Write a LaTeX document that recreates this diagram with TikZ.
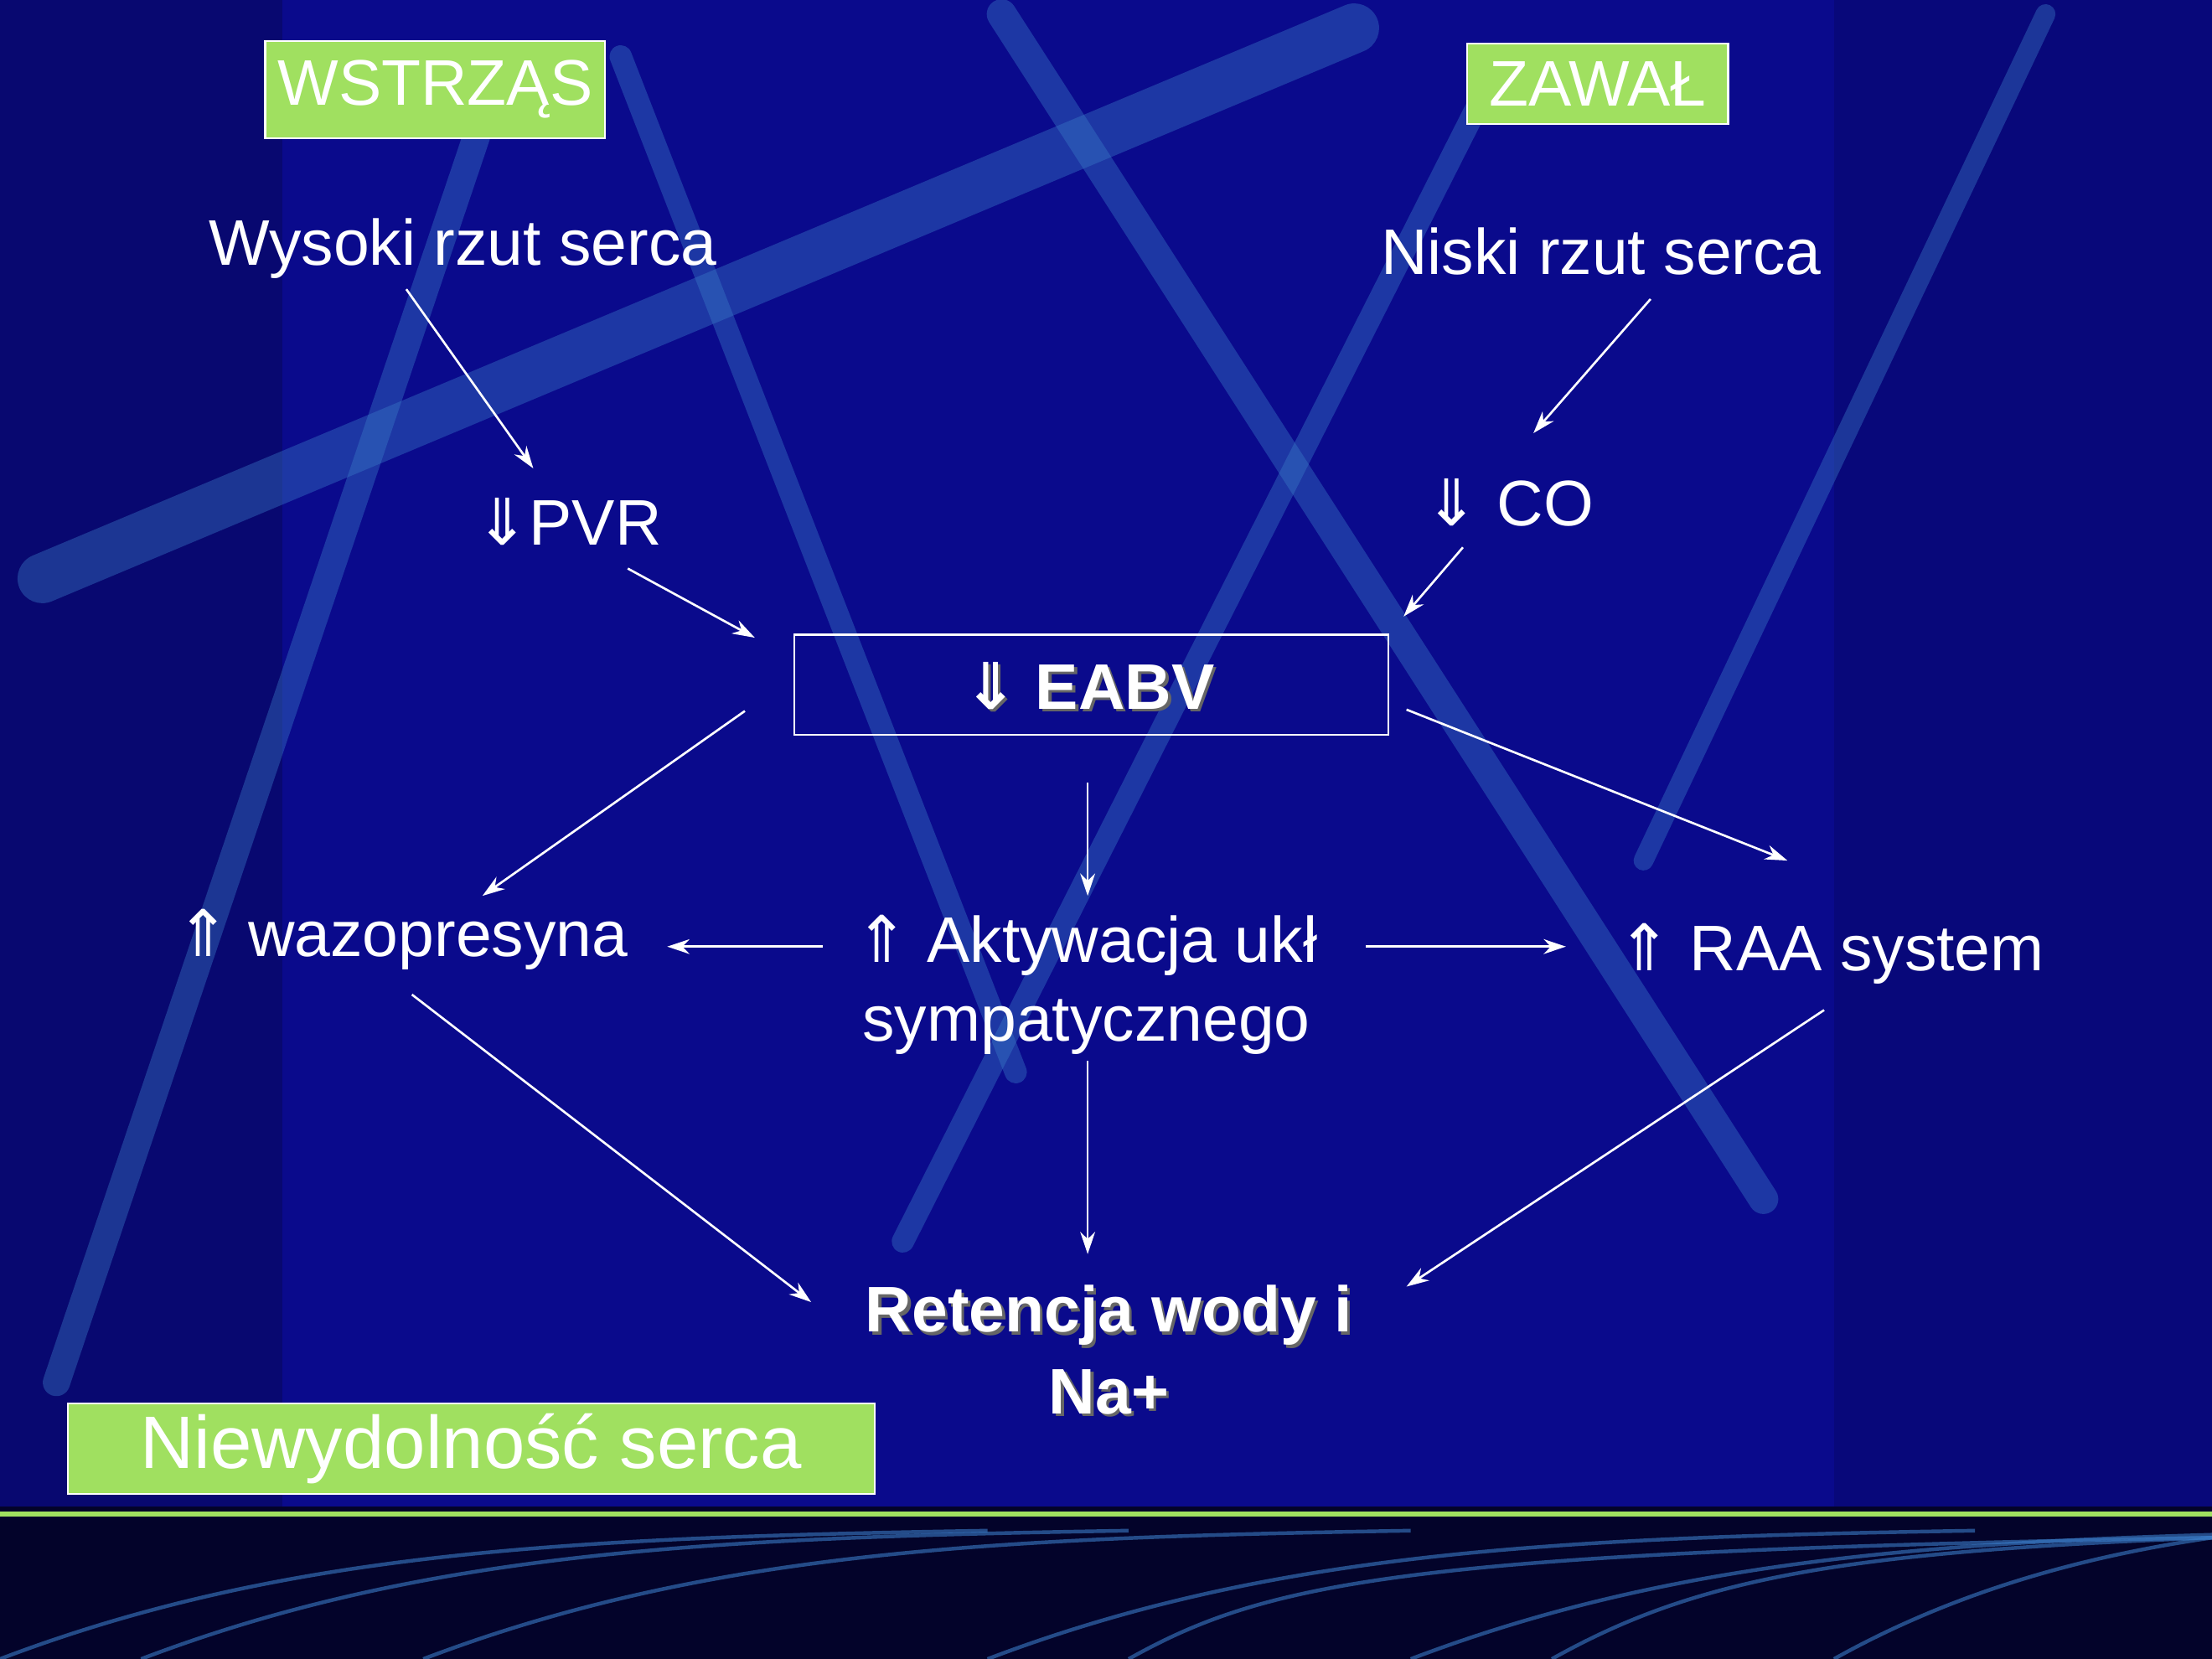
\documentclass[tikz,border=0pt]{standalone}
\usepackage{fontspec}
\setmainfont{Liberation Sans}
\newfontfamily\sym{DejaVu Sans}
\usetikzlibrary{arrows.meta}
\definecolor{bgblue}{HTML}{0A0A8C}
\definecolor{gbox}{HTML}{A0E060}
\definecolor{streak}{HTML}{3A7CC8}
\begin{document}
\begin{tikzpicture}[x=0.02cm,y=-0.02cm,
  txt/.style={text=white,font=\fontsize{26}{30}\selectfont,inner sep=0pt},
  bld/.style={text=white,font=\fontsize{26}{31}\selectfont\bfseries,inner sep=0pt,align=center},
  gbx/.style={fill=gbox,draw=white,line width=0.8pt,text=white,inner sep=0pt},
  arr/.style={white,line width=0.9pt,-{Stealth[length=9pt,width=6pt]}},
  st/.style={streak,opacity=0.4,line cap=round}]
\useasboundingbox (0,0) rectangle (1568,1176);
\fill[bgblue] (0,0) rectangle (1568,1176);
\fill[black,opacity=0.2] (0,0) rectangle (200,1176);
\fill[black,opacity=0.12] (1300,0) rectangle (1568,1176);
% streaks
\draw[st,line width=20pt] (30,410) -- (960,20);
\draw[st,line width=12pt] (710,10) -- (1250,850);
\draw[st,line width=9pt] (440,40) -- (720,760);
\draw[st,line width=11pt] (340,90) -- (40,980);
\draw[st,line width=9pt] (1060,50) -- (640,880);
\draw[st,line width=8pt] (1450,10) -- (1165,610);
% bottom band
\fill[black!70!bgblue] (0,1068) rectangle (1568,1176);
\draw[gbox,line width=2pt] (0,1073) -- (1568,1073);
\foreach \a/\b in {0/1176,100/1176,300/1176,700/1176,1000/1176}{
  \draw[streak,opacity=0.6,line width=1.5pt] (\a,\b) .. controls (\a+200,1100) and (\a+400,1090) .. (\a+700,1085);}
\foreach \a in {800,1100,1300}{
  \draw[streak,opacity=0.6,line width=1.5pt] (\a,1176) .. controls (\a+100,1120) and (\a+200,1100) .. (1568,1090);}
% nodes
\node[gbx,minimum width=241*0.02cm,minimum height=69*0.02cm,font=\fontsize{26}{30}\selectfont] (wst) at (308.5,63.5) {WSTRZĄS};
\node[gbx,minimum width=185*0.02cm,minimum height=57*0.02cm,font=\fontsize{26}{30}\selectfont] (zaw) at (1132.5,59.5) {ZAWAŁ};
\node[gbx,minimum width=572*0.02cm,minimum height=64*0.02cm,font=\fontsize{30}{34}\selectfont] (nie) at (334,1027) {Niewydolność serca};
\node[txt] (wys) at (328,176) {Wysoki rzut serca};
\node[txt] (nis) at (1135,178) {Niski rzut serca};
\node[txt] (pvr) at (403,370) {{\sym ⇓}PVR};
\node[txt] (co) at (1070,356) {{\sym ⇓} CO};
\node[draw=white,line width=0.8pt,minimum width=421*0.02cm,minimum height=71*0.02cm] (eabv) at (773.5,485.5) {};
\node[bld,text=black!60] at (774,488) {{\sym ⇓} EABV};
\node[bld] (eabvt) at (772,486) {{\sym ⇓} EABV};
\node[txt] (waz) at (285,666) {{\sym ⇑} wazopresyna};
\node[txt,align=center] (akt) at (770,698) {{\sym ⇑} Aktywacja ukł\\[2pt]sympatycznego};
\node[txt] (raa) at (1298,676) {{\sym ⇑} RAA system};
\node[bld,text=black!60] at (788,959) {Retencja wody i\\[2pt]Na+};
\node[bld] (ret) at (786,957) {Retencja wody i\\[2pt]Na+};
% arrow anchors
\foreach \n/\x/\y in {a1/288/205,b1/378/332,a2/445/403,b2/535/452,a3/1170/212,b3/1087/307,a4/1037/388,b4/995/437,
 a5/528/504,b5/342/635,a6/771/555,b6/771/635,a7/997/503,b7/1267/610,a8/583/671,b8/473/671,a9/968/671,b9/1110/671,
 a10/771/752,b10/771/889,a11/292/705,b11/575/923,a12/1293/716,b12/997/912}
 \coordinate (\n) at (\x,\y);
\foreach \i in {1,...,12} \draw[arr] (a\i) -- (b\i);
\end{tikzpicture}
\end{document}
